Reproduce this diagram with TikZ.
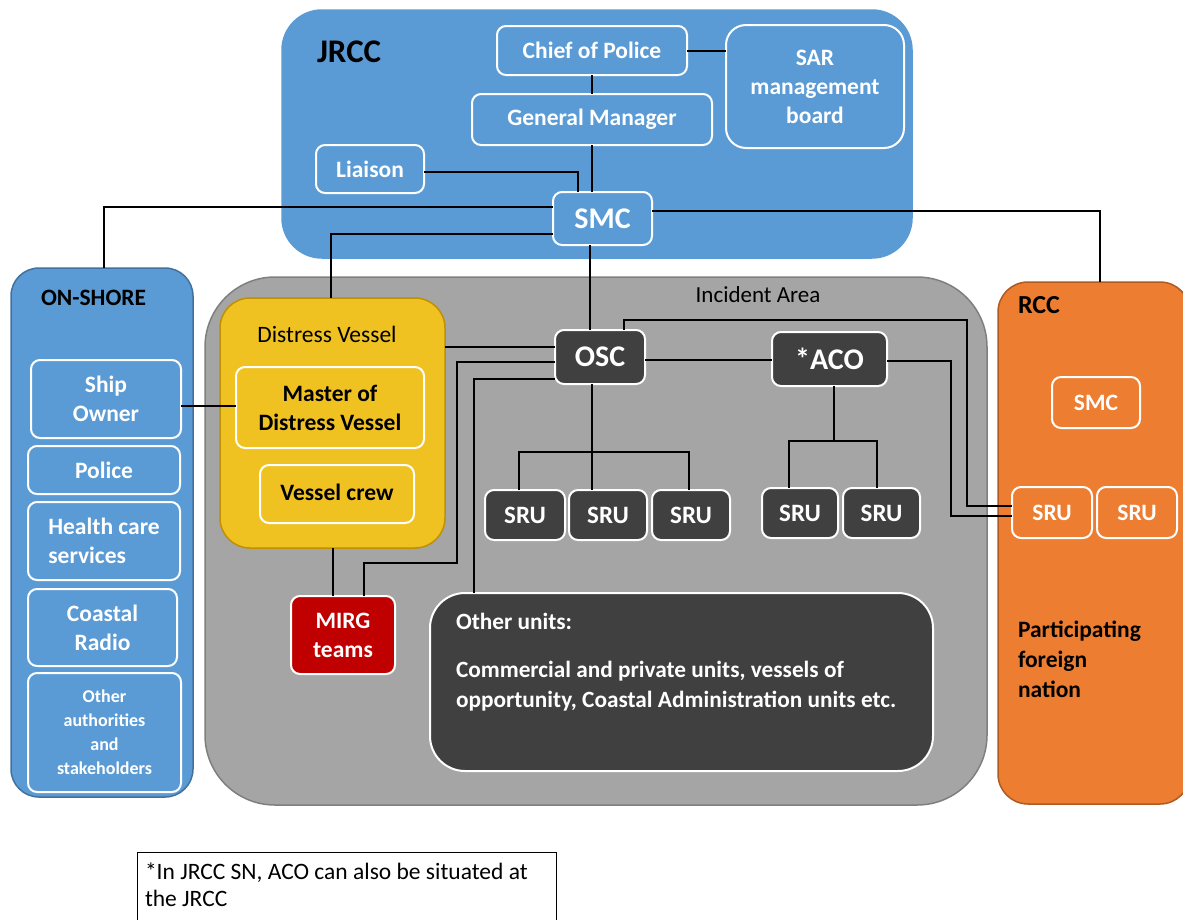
\documentclass[tikz,border=0pt]{standalone}
\usepackage{fontspec}
\setmainfont{Carlito}
\newcommand\fsz[2]{\fontsize{#1}{#2}\selectfont}
\definecolor{jblue}{HTML}{5B9BD5}
\definecolor{jblueedge}{HTML}{41719C}
\definecolor{igray}{HTML}{A5A5A5}
\definecolor{igrayedge}{HTML}{7F7F7F}
\definecolor{dyellow}{HTML}{EFC222}
\definecolor{dyellowedge}{HTML}{BF9000}
\definecolor{rorange}{HTML}{ED7D31}
\definecolor{rorangeedge}{HTML}{AE5A21}
\definecolor{udark}{HTML}{404040}
\definecolor{ured}{HTML}{C00000}
\begin{document}
\begin{tikzpicture}[x=1pt,y=-1pt,
  every node/.style={inner sep=0pt, outer sep=0pt},
  area/.style={draw, line width=1.5pt, rounded corners=#1},
  area/.default=30pt,
  unit/.style={draw=white, line width=2pt, rounded corners=9pt, text=white,
    font=\bfseries\fsz{23.5}{29}, align=center},
  darkunit/.style={unit, fill=udark},
  blueunit/.style={unit, fill=jblue},
  orangeunit/.style={unit, fill=rorange},
  yellowunit/.style={unit, fill=dyellow, text=black},
  srufont/.style={font=\bfseries\fsz{25}{28}},
  title/.style={font=\bfseries\fsz{23.5}{29}, text=black, anchor=west},
  link/.style={line width=2pt, black}]
\useasboundingbox (0,0) rectangle (1183,919);

% containers
\node[area=40pt, fill=jblue, draw=jblue, minimum width=630pt, minimum height=248pt] (jrcc) at (597,134) {};
\node[area=28pt, fill=jblue, draw=jblueedge, minimum width=182pt, minimum height=529pt] (onshore) at (102,532.5) {};
\node[area=70pt, fill=igray, draw=igrayedge, minimum width=782pt, minimum height=528pt] (incident) at (596,541) {};
\node[area=30pt, fill=rorange, draw=rorangeedge, minimum width=192pt, minimum height=522pt] (rcc) at (1094,543) {};
\node[area=30pt, fill=dyellow, draw=dyellowedge, minimum width=225pt, minimum height=250pt] (distress) at (332.5,423) {};

% container labels
\node[title, font=\bfseries\fsz{33}{36}] (jrcclabel) at (317,52) {JRCC};
\node[title] (onshorelabel) at (41,298) {ON-SHORE};
\node[title, font=\bfseries\fsz{26}{29}] (rcclabel) at (1018,305) {RCC};
\node[font=\fsz{23}{26}] (incidentlabel) at (758,295) {Incident Area};
\node[font=\fsz{23.5}{27}] (distresslabel) at (327,334) {Distress Vessel};
\node[title, font=\bfseries\fsz{23.5}{30}, align=left] (foreign) at (1018,659) {Participating\\foreign\\nation};

% JRCC
\node[blueunit, minimum width=190pt, minimum height=49pt] (chief) at (592,50.5) {Chief of Police};
\node[blueunit, minimum width=240pt, minimum height=51pt] (gm) at (592,119.5) {General Manager};
\node[blueunit, rounded corners=20pt, minimum width=178pt, minimum height=123pt] (sar) at (815,86.5) {SAR\\management\\board};
\node[blueunit, minimum width=108pt, minimum height=48pt] (liaison) at (370,169) {Liaison};
\node[blueunit, font=\bfseries\fsz{30}{34}, minimum width=99pt, minimum height=53pt] (smc) at (602.5,218.5) {SMC};

% on-shore
\node[blueunit, minimum width=150pt, minimum height=78pt] (shipowner) at (106,399) {Ship\\Owner};
\node[blueunit, minimum width=152pt, minimum height=48pt] (police) at (104,470) {Police};
\node[blueunit, align=left, minimum width=152pt, minimum height=78pt] (health) at (104,541) {Health care\\services};
\node[blueunit, minimum width=149pt, minimum height=77pt] (coastal) at (102.5,627.5) {Coastal\\Radio};
\node[blueunit, font=\bfseries\fsz{18}{24}, minimum width=153pt, minimum height=119pt] (otherauth) at (104.5,732.5) {Other\\authorities\\and\\stakeholders};

% incident area
\node[yellowunit, minimum width=188pt, minimum height=81pt] (master) at (330,407.5) {Master of\\Distress Vessel};
\node[yellowunit, minimum width=154pt, minimum height=58pt] (crew) at (337,494) {\raisebox{3pt}{Vessel crew}};
\node[unit, fill=ured, minimum width=104pt, minimum height=78pt] (mirg) at (343,635) {MIRG\\teams};
\node[darkunit, font=\bfseries\fsz{30}{32}, minimum width=90pt, minimum height=54pt] (osc) at (600,357) {OSC};
\node[darkunit, font=\bfseries\fsz{30}{32}, minimum width=115pt, minimum height=54pt] (aco) at (829.5,359) {*ACO};
\node[darkunit, srufont, minimum width=80pt, minimum height=50pt] (sru1) at (525,515) {SRU};
\node[darkunit, srufont, minimum width=78pt, minimum height=50pt] (sru2) at (608,515) {SRU};
\node[darkunit, srufont, minimum width=78pt, minimum height=50pt] (sru3) at (691,515) {SRU};
\node[darkunit, srufont, minimum width=76pt, minimum height=50pt] (asru1) at (800,513) {SRU};
\node[darkunit, srufont, minimum width=77pt, minimum height=50pt] (asru2) at (881.5,513) {SRU};
\node[darkunit, rounded corners=35pt, minimum width=503pt, minimum height=178pt] (other) at (681.5,682) {};
\node[font=\bfseries\fsz{23.3}{30}, text=white, anchor=west] (otherhead) at (456,621) {Other units:};
\node[font=\bfseries\fsz{23.3}{30}, text=white, anchor=west, align=left] (otherbody) at (456,686) {Commercial and private units, vessels of\\opportunity, Coastal Administration units etc.};

% RCC
\node[orangeunit, font=\bfseries\fsz{23.5}{28}, minimum width=88pt, minimum height=51pt] (rsmc) at (1096,402.5) {SMC};
\node[orangeunit, font=\bfseries\fsz{23.5}{28}, minimum width=80pt, minimum height=51pt] (rsru1) at (1052,512.5) {SRU};
\node[orangeunit, font=\bfseries\fsz{23.5}{28}, minimum width=80pt, minimum height=51pt] (rsru2) at (1137,512.5) {SRU};

% footnote
\node[draw=black, line width=1pt, anchor=north west, minimum width=419pt, minimum height=90pt] (note) at (137,852) {};
\node[font=\fsz{23.5}{27}, align=left, anchor=north west] (notetext) at ([xshift=8pt,yshift=-11pt]note.north west) {*In JRCC SN, ACO can also be situated at\\the JRCC};

% connectors inside JRCC
\draw[link] (chief.east) -- (chief.east -| sar.west);
\draw[link] (chief.south) -- (gm.north);
\draw[link] (gm.south) -- (gm.south |- smc.north);
\draw[link] (liaison.east |- 0,172) -| (578,0 |- smc.north);

% connectors leaving the SMC
\draw[link] (smc.west |- 0,207) -| (104,0 |- onshore.north);
\draw[link] (smc.west |- 0,234) -| (331,0 |- distress.north);
\draw[link] (smc.east |- 0,211) -| (1100,0 |- rcc.north);
\draw[link] (590,0 |- smc.south) -- (590,0 |- osc.north);

% connectors around the distress vessel
\draw[link] (shipowner.east |- 0,406) -- (master.west |- 0,406);
\draw[link] (distress.east |- 0,347) -- (osc.west |- 0,347);
\draw[link] (333,0 |- distress.south) -- (333,0 |- mirg.north);
\draw[link] (osc.west |- 0,362) -| (457,563) -| (364,0 |- mirg.north);
\draw[link] (osc.west |- 0,379) -| (474,0 |- other.north);

% OSC and ACO with their SRUs
\draw[link] (osc.east |- 0,360) -- (aco.west |- 0,360);
\draw[link] (592,0 |- osc.south) -- (592,0 |- sru2.north);
\draw[link] (519,0 |- sru1.north) |- (689,452) -- (689,0 |- sru3.north);
\draw[link] (834,0 |- aco.south) -- (834,441);
\draw[link] (789,0 |- asru1.north) |- (877,441) -- (877,0 |- asru2.north);

% links to the foreign SRU
\draw[link] (624,0 |- osc.north) -- (624,320) -| (967,506) -- (rsru1.west |- 0,506);
\draw[link] (aco.east |- 0,361) -| (951,516) -- (rsru1.west |- 0,516);
\end{tikzpicture}
\end{document}
